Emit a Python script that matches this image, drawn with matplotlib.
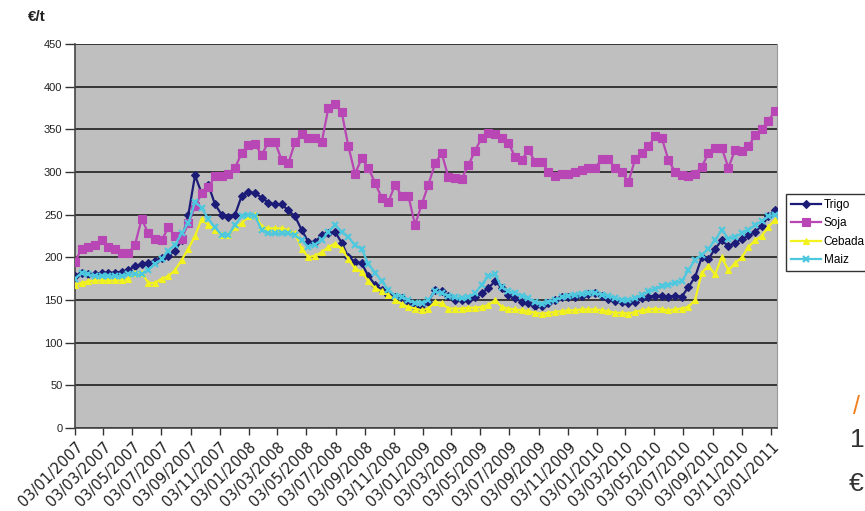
import matplotlib
matplotlib.use("Agg")
import matplotlib.pyplot as plt
import matplotlib.dates as mdates
import pandas as pd
import numpy as np

# ---- data (biweekly readings, €/t) ----
start_date = "2007-01-03"
n_points = 106
dates = pd.date_range(start_date, periods=n_points, freq="14D")

trigo = [178, 182, 180, 180, 182, 182, 182, 183, 185, 190,
         192, 193, 196, 199, 202, 208, 220, 250, 296, 275,
         285, 262, 250, 247, 250, 272, 277, 275, 270, 264,
         262, 262, 255, 248, 232, 218, 218, 226, 228, 230,
         217, 200, 195, 193, 178, 168, 162, 156, 154, 152,
         148, 142, 140, 148, 162, 160, 155, 150, 150, 150,
         153, 158, 164, 172, 164, 156, 152, 148, 146, 143,
         143, 147, 150, 153, 154, 154, 155, 157, 158, 155,
         151, 149, 148, 146, 148, 152, 154, 155, 155, 154,
         155, 154, 165, 177, 200, 198, 210, 220, 213, 217,
         222, 226, 230, 237, 248, 256]

soja = [195, 210, 212, 215, 220, 212, 210, 205, 205, 215,
        245, 228, 222, 220, 235, 225, 222, 240, 260, 275,
        282, 295, 295, 298, 305, 322, 332, 333, 320, 335,
        335, 314, 310, 335, 345, 340, 340, 335, 375, 380,
        370, 330, 298, 316, 305, 287, 270, 265, 285, 272,
        272, 238, 262, 285, 310, 322, 294, 293, 292, 308,
        325, 340, 346, 345, 340, 334, 318, 314, 326, 312,
        312, 300, 295, 298, 298, 300, 302, 305, 305, 315,
        315, 305, 300, 288, 315, 322, 330, 342, 340, 314,
        300, 296, 295, 298, 306, 322, 328, 328, 305, 326,
        325, 330, 343, 350, 360, 372]

cebada = [168, 170, 172, 173, 173, 173, 173, 173, 175, 182,
          182, 170, 170, 175, 178, 185, 197, 210, 225, 245,
          238, 232, 226, 226, 235, 240, 248, 250, 236, 234,
          234, 234, 232, 228, 210, 200, 202, 206, 212, 216,
          210, 198, 187, 183, 172, 164, 160, 156, 150, 145,
          142, 140, 138, 140, 148, 146, 140, 140, 140, 141,
          141, 142, 144, 150, 142, 140, 139, 138, 137, 135,
          134, 135, 136, 137, 138, 138, 139, 139, 139, 138,
          137, 135, 135, 134, 136, 138, 139, 140, 139, 138,
          139, 140, 142, 150, 182, 190, 180, 200, 185, 193,
          200, 212, 220, 225, 236, 244]

maiz = [175, 182, 180, 178, 178, 178, 178, 178, 180, 180,
        180, 185, 192, 198, 208, 215, 228, 240, 265, 258,
        245, 235, 226, 226, 238, 248, 250, 248, 232, 228,
        228, 228, 228, 226, 220, 212, 215, 220, 230, 238,
        230, 224, 214, 210, 192, 182, 172, 162, 155, 154,
        150, 146, 146, 150, 160, 158, 155, 153, 152, 153,
        158, 168, 178, 180, 165, 160, 158, 155, 152, 148,
        145, 148, 150, 153, 155, 156, 157, 158, 158, 156,
        155, 152, 150, 150, 152, 156, 160, 163, 166, 168,
        170, 172, 185, 197, 203, 210, 220, 232, 222, 224,
        228, 232, 238, 242, 248, 250]

series_names = ["Trigo", "Soja", "Cebada", "Maiz"]
y_ticks = [0, 50, 100, 150, 200, 250, 300, 350, 400, 450]
x_tick_dates = pd.date_range("2007-01-01", periods=25, freq="2MS") + pd.Timedelta(days=2)

# ---- figure ----
plt.rcParams['font.family'] = ['Liberation Sans', 'DejaVu Sans']
fig = plt.figure(figsize=(8.65, 5.11), dpi=100)
fig.patch.set_facecolor("white")
ax = fig.add_axes([75/865, 1-428/511, (777-75)/865, (428-44)/511])
ax.set_facecolor("#bfbfbf")

styles = [
    dict(color="#1c1c78", marker="D", ms=4, mew=0.8),
    dict(color="#b846b4", marker="s", ms=6, mew=0.8),
    dict(color="#f2f21e", marker="^", ms=5, mew=0.8),
    dict(color="#4ec8de", marker="x", ms=4.5, mew=1.6),
]
for name, vals, st in zip(series_names, [trigo, soja, cebada, maiz], styles):
    ax.plot(dates, vals, lw=1.6, label=name, zorder=3, **st)

ax.set_ylim(0, 450)
ax.set_yticks(y_ticks)
ax.set_xlim(pd.Timestamp("2007-01-03"), pd.Timestamp("2011-01-16"))
ax.set_xticks(x_tick_dates)
ax.xaxis.set_major_formatter(mdates.DateFormatter("%d/%m/%Y"))
for lab in ax.get_xticklabels():
    lab.set_rotation(45)
    lab.set_ha("right")
    lab.set_rotation_mode("anchor")
    lab.set_fontsize(10.5)
    lab.set_family("DejaVu Sans")
    lab.set_color("#222222")
ax.tick_params(axis="x", length=5, width=1, color="#333333", pad=3)
ax.tick_params(axis="y", length=7, width=1, color="#333333", labelsize=8, pad=2,
               labelcolor="#222222")

ax.yaxis.grid(True, color="#111111", lw=1.1)
ax.set_axisbelow(True)
for side in ["left", "bottom"]:
    ax.spines[side].set_color("#444444")
    ax.spines[side].set_linewidth(1.2)
ax.spines["top"].set_visible(False)
ax.spines["right"].set_color("#999999")

fig.text(28/865, 1-17/511, "€/t", fontsize=11, fontweight="bold", color="#222222",
         va="center", ha="left")

leg = fig.legend(loc="upper left", bbox_to_anchor=(786/865, 1-194/511),
                 frameon=True, fancybox=False, edgecolor="black", fontsize=8.5,
                 handlelength=2.6, labelspacing=0.55, borderpad=0.4,
                 handletextpad=0.2, borderaxespad=0)
leg.get_frame().set_linewidth(1.0)

# page fragments at the right edge
fig.text(853/865, 1-407/511, "/", fontsize=18, color="#f08020", va="center", ha="left")
fig.text(850/865, 1-440/511, "1", fontsize=19, color="#333333", va="center", ha="left")
fig.text(849/865, 1-484/511, "€", fontsize=19, color="#333333", va="center", ha="left")

fig.savefig("out.png", dpi=100)
